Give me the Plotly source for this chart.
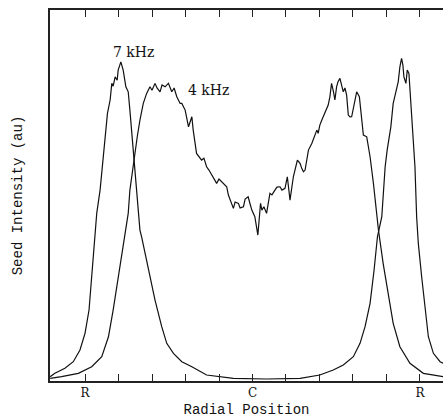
import plotly.graph_objects as go

# Radial position (R = -5/+5, C = 0) and seed intensity (au, 0-100)
x_7khz = [-6.04, -5.90, -5.60, -5.35, -5.15, -5.00, -4.88, -4.80, -4.72, -4.65,
          -4.55, -4.45, -4.33, -4.25, -4.20, -4.16, -4.10, -4.04, -4.01, -3.93,
          -3.90, -3.86, -3.78, -3.71, -3.66, -3.61, -3.56, -3.46, -3.36, -3.31,
          -3.11, -2.91, -2.71, -2.56, -2.36, -2.11, -1.81, -1.37, -0.57, 0.42,
          1.42, 2.01, 2.41, 2.71, 3.01, 3.21, 3.36, 3.51, 3.63, 3.73,
          3.86, 3.96, 4.02, 4.13, 4.20, 4.28, 4.35, 4.40, 4.45, 4.49,
          4.52, 4.58, 4.62, 4.67, 4.72, 4.78, 4.85, 4.90, 4.95, 5.05,
          5.15, 5.25, 5.40, 5.60, 5.69]
y_7khz = [1.16, 2.07, 3.42, 5.20, 8.34, 12.84, 19.11, 28.08, 37.07, 45.14,
          51.41, 60.38, 72.06, 75.66, 80.14, 79.4, 81.91, 81.0, 83.72, 85.95,
          84.8, 83.72, 79.22, 77.87, 72.95, 67.56, 60.38, 49.61, 40.65, 38.84,
          29.88, 21.80, 14.62, 10.15, 7.46, 5.20, 3.85, 1.62, 0.72, 0.54,
          0.72, 1.62, 2.96, 4.31, 6.54, 10.15, 14.62, 20.92, 29.88, 38.84,
          44.23, 57.69, 62.18, 68.45, 74.75, 78.33, 80.57, 84.60, 86.86, 85.06,
          81.91, 80.14, 83.72, 82.83, 75.66, 66.68, 57.69, 44.23, 37.07, 28.08,
          19.11, 11.92, 7.46, 5.20, 4.76]

x_4khz = [-6.04, -5.70, -5.20, -4.80, -4.50, -4.30, -4.16, -4.01, -3.81, -3.71,
          -3.66, -3.56, -3.44, -3.36, -3.26, -3.16, -3.06, -3.00, -2.91, -2.85,
          -2.76, -2.70, -2.61, -2.51, -2.41, -2.34, -2.26, -2.16, -2.11, -2.01,
          -1.96, -1.91, -1.81, -1.77, -1.67, -1.59, -1.52, -1.45, -1.37, -1.30,
          -1.22, -1.15, -1.07, -1.00, -0.92, -0.85, -0.77, -0.72, -0.67, -0.57,
          -0.52, -0.42, -0.37, -0.27, -0.22, -0.13, -0.07, -0.02, 0.07, 0.16,
          0.24, 0.28, 0.34, 0.42, 0.52, 0.58, 0.67, 0.73, 0.82, 0.88,
          0.97, 1.04, 1.12, 1.22, 1.34, 1.42, 1.47, 1.52, 1.57, 1.67,
          1.77, 1.84, 1.92, 1.96, 2.01, 2.07, 2.11, 2.21, 2.26, 2.31,
          2.36, 2.42, 2.46, 2.51, 2.55, 2.61, 2.66, 2.71, 2.76, 2.81,
          2.86, 2.91, 2.96, 3.01, 3.06, 3.11, 3.19, 3.26, 3.31, 3.41,
          3.51, 3.61, 3.69, 3.76, 3.90, 4.05, 4.20, 4.40, 4.70, 5.10,
          5.69]
y_4khz = [0.73, 1.16, 2.07, 3.85, 6.54, 11.92, 19.11, 28.08, 38.84, 45.14,
          51.41, 58.60, 65.76, 70.26, 74.75, 77.44, 79.22, 78.3, 80.14, 78.9,
          77.87, 79.7, 79.22, 80.14, 77.87, 78.9, 76.53, 74.75, 74.75, 72.95,
          70.26, 68.45, 71.14, 67.56, 61.29, 60.38, 59.49, 60.0, 57.69, 56.8,
          55.45, 54.6, 53.22, 54.4, 53.65, 53.0, 52.30, 50.07, 48.72, 46.49,
          48.2, 47.83, 46.6, 46.92, 49.0, 49.61, 47.6, 46.03, 44.23, 39.30,
          47.83, 46.0, 46.92, 45.14, 50.53, 50.1, 51.41, 52.2, 52.30, 51.4,
          51.87, 54.99, 48.72, 54.99, 59.49, 58.60, 57.25, 56.34, 56.80, 62.18,
          63.98, 65.95, 67.56, 66.68, 68.91, 70.26, 71.14, 72.95, 74.30, 76.53,
          80.14, 77.8, 75.66, 79.22, 80.5, 81.48, 79.4, 77.87, 78.9, 76.99,
          71.60, 71.1, 71.14, 73.5, 75.66, 77.87, 76.53, 71.14, 66.22, 65.76,
          60.38, 53.22, 46.03, 40.65, 31.68, 23.61, 15.53, 9.23, 4.76, 2.07,
          1.16]

tick_vals = [-5, -4, -3, -2, -1, 0, 1, 2, 3, 4, 5]
tick_text = ["R", "", "", "", "", "C", "", "", "", "", "R"]

labels = ["7 kHz", "4 kHz"]
label_x = [-3.54, -1.31]
label_y = [88.6, 78.3]

line_style = dict(color="#111111", width=1.2)

fig = go.Figure()
fig.add_trace(go.Scatter(x=x_7khz, y=y_7khz, mode="lines", line=line_style,
                         name=labels[0], showlegend=False))
fig.add_trace(go.Scatter(x=x_4khz, y=y_4khz, mode="lines", line=line_style,
                         name=labels[1], showlegend=False))

for t, lx, ly in zip(labels, label_x, label_y):
    fig.add_annotation(x=lx, y=ly, text=t, showarrow=False,
                       font=dict(family="DejaVu Serif", size=14, color="#111111"))

fig.update_layout(
    width=443, height=418,
    margin=dict(l=50, r=0, t=10, b=37),
    paper_bgcolor="white", plot_bgcolor="white",
    xaxis=dict(
        range=[-6.045, 5.687], showgrid=False, zeroline=False,
        showline=True, linecolor="#222222", linewidth=1.5, mirror="ticks",
        ticks="inside", ticklen=7, tickcolor="#222222", tickwidth=1,
        tickvals=tick_vals, ticktext=tick_text,
        tickfont=dict(family="DejaVu Serif", size=12, color="#111111"),
        title=dict(text="Radial Position", standoff=6,
                   font=dict(family="Liberation Mono", size=14, color="#111111")),
    ),
    yaxis=dict(
        range=[0, 99.9], showgrid=False, zeroline=False,
        showline=True, linecolor="#222222", linewidth=1.5, mirror=False,
        ticks="", showticklabels=False,
        title=dict(text="Seed Intensity (au)", standoff=22,
                   font=dict(family="Liberation Mono", size=14, color="#111111")),
    ),
)

fig.write_html("out.html")
